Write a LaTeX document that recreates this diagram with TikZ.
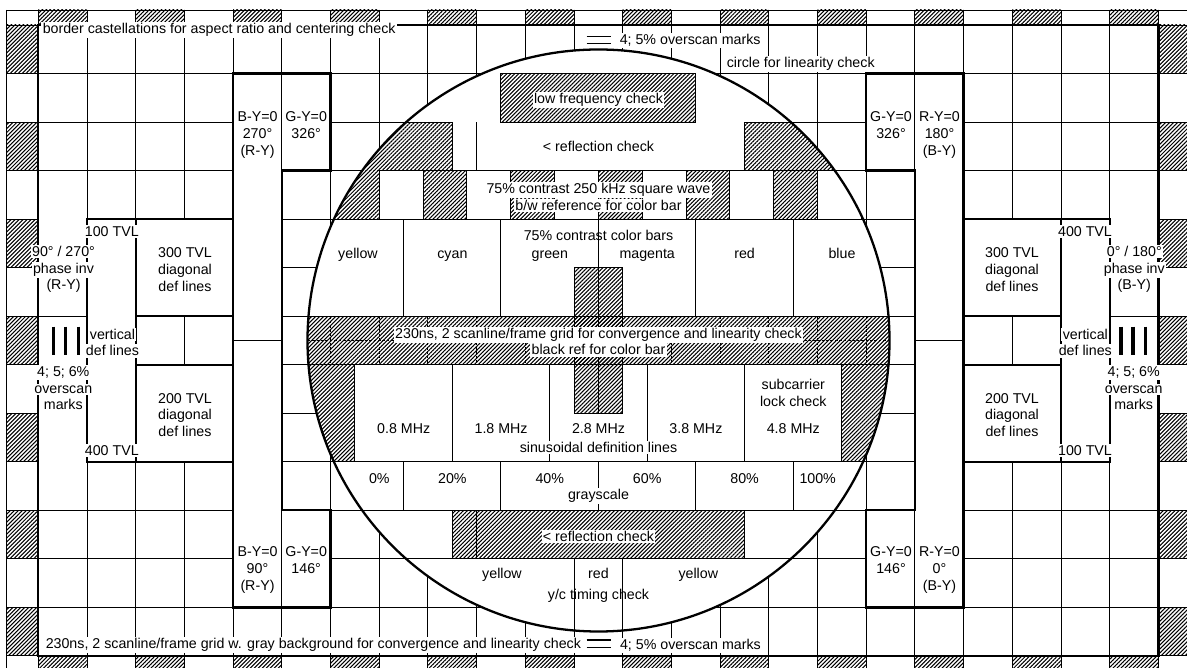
\documentclass[tikz,border=0pt]{standalone}
\usepackage{fontspec}
\setmainfont{Liberation Sans}
\usetikzlibrary{patterns.meta}
\begin{document}
\begin{tikzpicture}[x=0.02cm,y=-0.02cm,
  gridln/.style={line width=0.55pt},
  thickln/.style={line width=1.3pt,line cap=rect},
  hatch/.style={pattern={Lines[angle=45,distance=1.6pt,line width=0.6pt]}},
  lbl/.style={font=\fontsize{8.1}{9.6}\selectfont, inner sep=0.8pt},
  wlbl/.style={lbl, fill=white},
  bl/.style={lbl, anchor=base},
  cellsys/.style={shift={(38.3,25)}, x=0.9742cm, y=-0.9708cm},
]
\useasboundingbox (0,0) rectangle (1187,668);
\clip (0,0) rectangle (1187,668);
\fill[white] (0,0) rectangle (1187,668);

\begin{scope}[cellsys]
% castellations
\foreach \c in {0,2,...,22} {
  \fill[hatch] (\c,-0.309) rectangle (\c+1,0);
  \fill[hatch] (\c,13) rectangle (\c+1,13.309);
}
\foreach \r in {0,2,...,12} {
  \fill[hatch] (-0.649,\r) rectangle (0,\r+1);
  \fill[hatch] (23,\r) rectangle (23.649,\r+1);
}
% grid
\foreach \c in {0,...,23} \draw[gridln] (\c,-0.309) -- (\c,13.309);
\foreach \r in {0,...,13} \draw[gridln] (-0.649,\r) -- (23.649,\r);
\draw[gridln] (-0.649,-0.309) -- (23.649,-0.309);
\draw[gridln] (-0.649,-0.309) -- (-0.649,13.309);
% white regions
\fill[white] (4,1) -- (6,1) -- (6,3) -- (5,3) -- (5,10) -- (6,10) -- (6,12) -- (4,12) -- cycle;
\fill[white] (19,1) -- (17,1) -- (17,3) -- (18,3) -- (18,10) -- (17,10) -- (17,12) -- (19,12) -- cycle;
\fill[white] (0,4) rectangle (4,9);
\fill[white] (19,4) rectangle (23,9);
\end{scope}

% circle interior
\begin{scope}
\clip (598.5,340.5) circle [radius=291];
\fill[white] (598.5,340.5) circle [radius=292];
\begin{scope}[cellsys]
% low frequency box
\draw[gridln,hatch] (9.5,1) rectangle (13.5,2);
% shoulders
\fill[hatch] (4,2) rectangle (8.5,3);
\fill[hatch] (14.5,2) rectangle (19,3);
\draw[gridln] (4,2) -- (8.5,2) -- (8.5,3);
\draw[gridln] (19,2) -- (14.5,2) -- (14.5,3);
\draw[gridln] (9,2) -- (9,3);
% square wave
\fill[hatch] (4,3) rectangle (7,4);
\foreach \k in {1,3,...,11} \fill[hatch] ({7+0.9*\k},3) rectangle ({7+0.9*(\k+1)},4);
\foreach \k in {0,...,12} \draw[gridln] ({7+0.9*\k},3) -- ({7+0.9*\k},4);
\draw[gridln] (7,3) -- (19,3);
% colour bars
\draw[gridln] (4,4) -- (19,4);
\foreach \x in {7.5,9.5,11.5,13.5,15.5} \draw[gridln] (\x,4) -- (\x,6);
% grid band
\fill[hatch] (4,6) rectangle (19,7);
\foreach \x in {5,...,18} \draw[gridln,dash pattern=on 1.5pt off 1pt] (\x,6) -- (\x,7);
\draw[gridln,dash pattern=on 1.5pt off 1pt] (4,6.5) -- (19,6.5);
\draw[gridln] (4,6) -- (19,6) (4,7) -- (19,7);
% multiburst
\fill[hatch] (4,7) rectangle (6.5,9);
\fill[hatch] (16.5,7) rectangle (19,9);
\foreach \x in {6.5,8.5,10.5,12.5,14.5,16.5} \draw[gridln] (\x,7) -- (\x,9);
% centre column
\draw[gridln,hatch] (11,5) rectangle (12,8);
\draw[gridln] (11.5,5) -- (11.5,8);
% grayscale
\draw[gridln] (4,9) -- (19,9) (4,10) -- (19,10) (4,11) -- (19,11);
\foreach \x in {7.5,9.5,11.5,13.5,15.5} \draw[gridln] (\x,9) -- (\x,10);
% bottom reflection
\draw[gridln,hatch] (8.5,10) rectangle (14.5,11);
\draw[gridln] (9,10) -- (9,11);
\draw[gridln] (11,11) -- (11,13) (12,11) -- (12,13);
\end{scope}
\end{scope}
\draw[thickln] (598.5,340.5) circle [radius=291];

\begin{scope}[cellsys]
\draw[thickln] (0,0) rectangle (23,13);
\draw[thickln] (4,1) -- (6,1) -- (6,3) -- (5,3) -- (5,10) -- (6,10) -- (6,12) -- (4,12) -- cycle;
\draw[thickln] (19,1) -- (17,1) -- (17,3) -- (18,3) -- (18,10) -- (17,10) -- (17,12) -- (19,12) -- cycle;
\draw[gridln] (5,1) -- (5,3) (5,10) -- (5,12) (4,6.5) -- (5,6.5);
\draw[gridln] (18,1) -- (18,3) (18,10) -- (18,12) (18,6.5) -- (19,6.5);
\draw[thickln] (1,4) -- (4,4) (1,9) -- (4,9) (1,4) -- (1,9) (2,4) -- (2,9) (2,6) -- (4,6) (2,7) -- (4,7);
\draw[gridln] (3,6) -- (3,7) (0,6) -- (1,6);
\draw[thickln] (19,4) -- (22,4) (19,9) -- (22,9) (21,4) -- (21,9) (22,4) -- (22,9) (19,6) -- (21,6) (19,7) -- (21,7);
\draw[gridln] (20,6) -- (20,7) (22,6) -- (23,6);
\end{scope}

% overscan bars and marks
\foreach \x in {53.3,65.7,78.3,1121,1133,1145.3} \draw[line width=1.9pt] (\x,326.7) -- (\x,355);
\draw[line width=0.75pt] (586.7,36.7) -- (610.7,36.7) (586.7,43.3) -- (610.7,43.3)
  (586.7,640) -- (610.7,640) (586.7,647.3) -- (610.7,647.3);

% texts: top and bottom rows
\node[wlbl,anchor=base west] (tcast) at (41,33.8) {border castellations for aspect ratio and centering check};
\node[wlbl,anchor=base west] (tover) at (618,45) {4; 5\% overscan marks};
\node[wlbl,anchor=base west] (tcirc) at (725,68) {circle for linearity check};
\node[wlbl,anchor=base west] (tbot) at (44,648.5) {230ns, 2 scanline/frame grid w. gray background for convergence and linearity check};
\node[wlbl,anchor=base west] (tover2) at (618.3,649.3) {4; 5\% overscan marks};

% circle texts
\node[wlbl,anchor=base] (tlow) at (598.5,104) {low frequency check};
\node[bl] (trefl) at (598.5,151.5) {< reflection check};
\node[wlbl,anchor=base] (tsq) at (598.5,193.3) {75\% contrast 250 kHz square wave};
\node[wlbl,anchor=base] (tbw) at (598.5,210.5) {b/w reference for color bar};
\node[bl] (tcb) at (598.5,241) {75\% contrast color bars};
\node[bl] (tyel) at (358,259) {yellow};
\node[bl] (tcya) at (452.4,259) {cyan};
\node[bl] (tgre) at (549.8,259) {green};
\node[bl] (tmag) at (647.2,259) {magenta};
\node[bl] (tred) at (744.6,259) {red};
\node[bl] (tblu) at (842,259) {blue};
\node[wlbl,anchor=base] (tband) at (598.5,338.3) {230ns, 2 scanline/frame grid for convergence and linearity check};
\node[wlbl,anchor=base] (tblk) at (598.5,355) {black ref for color bar};
\node[bl] (tsub1) at (793.3,390) {subcarrier};
\node[bl] (tsub2) at (793.3,407) {lock check};
\node[bl] (tm1) at (403.7,433.3) {0.8 MHz};
\node[bl] (tm2) at (501.1,433.3) {1.8 MHz};
\node[bl] (tm3) at (598.5,433.3) {2.8 MHz};
\node[bl] (tm4) at (695.9,433.3) {3.8 MHz};
\node[bl] (tm5) at (793.3,433.3) {4.8 MHz};
\node[wlbl,anchor=base] (tsin) at (598.5,452.7) {sinusoidal definition lines};
\node[bl] (tg0) at (379.3,483.3) {0\%};
\node[bl] (tg1) at (452.4,483.3) {20\%};
\node[bl] (tg2) at (549.8,483.3) {40\%};
\node[bl] (tg3) at (647.2,483.3) {60\%};
\node[bl] (tg4) at (744.6,483.3) {80\%};
\node[bl] (tg5) at (817.7,483.3) {100\%};
\node[wlbl,anchor=base] (tgray) at (598.5,500) {grayscale};
\node[wlbl,anchor=base] (trefl2) at (598.5,541.7) {< reflection check};
\node[bl] (tyc1) at (502,578.3) {yellow};
\node[bl] (tyc2) at (598.5,578.3) {red};
\node[bl] (tyc3) at (698.3,578.3) {yellow};
\node[bl] (tyc) at (598.5,599.3) {y/c timing check};

% phase strips (one node per line)
\node[bl] (h1a) at (257.5,121.7) {B-Y=0};
\node[bl] (h1b) at (257.5,138.5) {270°};
\node[bl] (h1c) at (257.5,155.3) {(R-Y)};
\node[bl] (h2a) at (306.2,121.7) {G-Y=0};
\node[bl] (h2b) at (306.2,138.5) {326°};
\node[bl] (h3a) at (891,121.7) {G-Y=0};
\node[bl] (h3b) at (891,138.5) {326°};
\node[bl] (h4a) at (939.5,121.7) {R-Y=0};
\node[bl] (h4b) at (939.5,138.5) {180°};
\node[bl] (h4c) at (939.5,155.3) {(B-Y)};
\node[bl] (h5a) at (257.5,556.7) {B-Y=0};
\node[bl] (h5b) at (257.5,573.5) {90°};
\node[bl] (h5c) at (257.5,590.3) {(R-Y)};
\node[bl] (h6a) at (306.2,556.7) {G-Y=0};
\node[bl] (h6b) at (306.2,573.5) {146°};
\node[bl] (h7a) at (891,556.7) {G-Y=0};
\node[bl] (h7b) at (891,573.5) {146°};
\node[bl] (h8a) at (939.5,556.7) {R-Y=0};
\node[bl] (h8b) at (939.5,573.5) {0°};
\node[bl] (h8c) at (939.5,590.3) {(B-Y)};

% left block texts
\node[wlbl,anchor=base] (l1) at (111.8,236.7) {100 TVL};
\node[wlbl,anchor=base] (l2) at (63.5,256.7) {90° / 270°};
\node[wlbl,anchor=base] (l3) at (63.5,273.3) {phase inv};
\node[wlbl,anchor=base] (l4) at (63.5,290) {(R-Y)};
\node[wlbl,anchor=base] (l5) at (185,257.7) {300 TVL};
\node[wlbl,anchor=base] (l6) at (185,275) {diagonal};
\node[wlbl,anchor=base] (l7) at (185,291.7) {def lines};
\node[wlbl,anchor=base] (l8) at (112.5,339.3) {vertical};
\node[wlbl,anchor=base] (l9) at (112.5,356) {def lines};
\node[wlbl,anchor=base] (l10) at (63.3,376.7) {4; 5; 6\%};
\node[wlbl,anchor=base] (l11) at (63.3,393.3) {overscan};
\node[wlbl,anchor=base] (l12) at (63.3,410) {marks};
\node[wlbl,anchor=base] (l13) at (185,403.3) {200 TVL};
\node[wlbl,anchor=base] (l14) at (185,420) {diagonal};
\node[wlbl,anchor=base] (l15) at (185,436.7) {def lines};
\node[wlbl,anchor=base] (l16) at (111.8,455.7) {400 TVL};

% right block texts
\node[wlbl,anchor=base] (r1) at (1085,236.7) {400 TVL};
\node[wlbl,anchor=base] (r2) at (1134.3,256.7) {0° / 180°};
\node[wlbl,anchor=base] (r3) at (1134.3,273.3) {phase inv};
\node[wlbl,anchor=base] (r4) at (1134.3,290) {(B-Y)};
\node[wlbl,anchor=base] (r5) at (1012,257.7) {300 TVL};
\node[wlbl,anchor=base] (r6) at (1012,275) {diagonal};
\node[wlbl,anchor=base] (r7) at (1012,291.7) {def lines};
\node[wlbl,anchor=base] (r8) at (1085.3,339.3) {vertical};
\node[wlbl,anchor=base] (r9) at (1085.3,356) {def lines};
\node[wlbl,anchor=base] (r10) at (1133.7,376.7) {4; 5; 6\%};
\node[wlbl,anchor=base] (r11) at (1133.7,393.3) {overscan};
\node[wlbl,anchor=base] (r12) at (1133.7,410) {marks};
\node[wlbl,anchor=base] (r13) at (1012,403.3) {200 TVL};
\node[wlbl,anchor=base] (r14) at (1012,420) {diagonal};
\node[wlbl,anchor=base] (r15) at (1012,436.7) {def lines};
\node[wlbl,anchor=base] (r16) at (1085,455.7) {100 TVL};
\end{tikzpicture}
\end{document}
